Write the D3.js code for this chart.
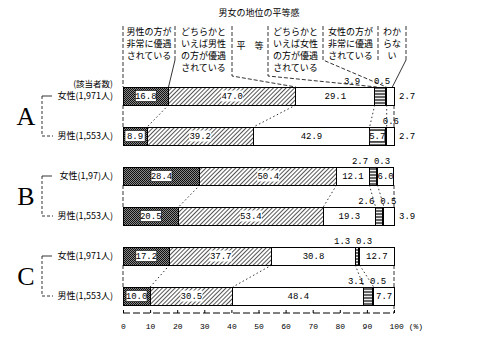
<!DOCTYPE html>
<html>
<head>
<meta charset="utf-8">
<script src="https://cdn.jsdelivr.net/npm/d3@7"></script>
<style>
  body { margin: 0; background: #fff; }
  svg { display: block; }
  .jp { font-family: "Noto Sans CJK JP", sans-serif; }
  .num { font-family: "Liberation Mono", "DejaVu Sans Mono", monospace; }
</style>
</head>
<body>
<div id="chart"></div>
<script>
// datos
const title = "男女の地位の平等感";
const categories = [
  ["男性の方が", "非常に優遇", "されている"],
  ["どちらかと", "いえば男性", "の方が優遇", "されている"],
  ["平　等"],
  ["どちらかと", "いえば女性", "の方が優遇", "されている"],
  ["女性の方が", "非常に優遇", "されている"],
  ["わか", "らな", "い"]
];
const groupNames = ["A", "B", "C"];
const rowGroup = ["A", "A", "B", "B", "C", "C"];
const rowLabels = ["女性(1,971人)", "男性(1,553人)", "女性(1,97)人)", "男性(1,553人)", "女性(1,971人)", "男性(1,553人)"];
const maleStrong = [16.8, 8.9, 28.4, 20.5, 17.2, 10.0];
const maleSome = [47.0, 39.2, 50.4, 53.4, 37.7, 30.5];
const equal = [29.1, 42.9, 12.1, 19.3, 30.8, 48.4];
const femaleSome = [3.9, 5.7, 2.7, 2.6, 1.3, 3.1];
const femaleStrong = [0.5, 0.6, 0.3, 0.5, 0.3, 0.5];
const unknown = [2.7, 2.7, 6.0, 3.9, 12.7, 7.7];
const xTicks = [0, 10, 20, 30, 40, 50, 60, 70, 80, 90, 100];

const keys = ["maleStrong", "maleSome", "equal", "femaleSome", "femaleStrong", "unknown"];
const series = [maleStrong, maleSome, equal, femaleSome, femaleStrong, unknown];
const rows = rowLabels.map((label, i) => {
  const r = { id: i, group: rowGroup[i], label };
  keys.forEach((k, j) => r[k] = series[j][i]);
  return r;
});

const width = 480, height = 340;
const barH = 18;

const svg = d3.select("#chart").append("svg")
  .attr("width", width)
  .attr("height", height);

const x = d3.scaleLinear([0, 100], [123, 394]);
const y = d3.scalePoint(rows.map(d => d.id), [96, 296]);

const stack = d3.stack().keys(keys)(rows);

// patrones
const defs = svg.append("defs");
const p1 = defs.append("pattern").attr("id", "p1").attr("patternUnits", "userSpaceOnUse")
  .attr("width", 2).attr("height", 2);
p1.append("rect").attr("width", 2).attr("height", 2).attr("fill", "#888");
p1.append("rect").attr("width", 1).attr("height", 1).attr("fill", "#111");
p1.append("rect").attr("x", 1).attr("y", 1).attr("width", 1).attr("height", 1).attr("fill", "#111");

const p2 = defs.append("pattern").attr("id", "p2").attr("patternUnits", "userSpaceOnUse")
  .attr("width", 3).attr("height", 3).attr("patternTransform", "rotate(45)");
p2.append("rect").attr("width", 3).attr("height", 3).attr("fill", "#fff");
p2.append("line").attr("x1", 0.5).attr("x2", 0.5).attr("y1", 0).attr("y2", 3)
  .attr("stroke", "#555").attr("stroke-width", 1);

const p4 = defs.append("pattern").attr("id", "p4").attr("patternUnits", "userSpaceOnUse")
  .attr("width", 3).attr("height", 3);
p4.append("rect").attr("width", 3).attr("height", 3).attr("fill", "#666");
p4.append("rect").attr("y", 2).attr("width", 3).attr("height", 1).attr("fill", "#eee");

const fills = ["url(#p1)", "url(#p2)", "#fff", "url(#p4)", "#000", "#fff"];

// título
svg.append("text").attr("class", "jp")
  .attr("x", 259).attr("y", 13).attr("dy", "0.35em")
  .attr("text-anchor", "middle").attr("font-size", 9)
  .text(title);

// cabecera con las categorías
const colX = [123, 175, 232, 268, 323, 378, 406];
const lineY = [32, 44, 56, 68];
const head = svg.append("g").attr("class", "jp").attr("font-size", 9).attr("text-anchor", "middle");
categories.forEach((lines, i) => {
  const cx = (colX[i] + colX[i + 1]) / 2;
  lines.forEach((t, j) => {
    head.append("text")
      .attr("x", cx)
      .attr("y", lines.length === 1 ? 46 : lineY[j])
      .attr("dy", "0.35em")
      .text(t);
  });
});

const lead = svg.append("g").attr("fill", "none").attr("stroke", "#000").attr("stroke-width", 0.8);
const topA = y(0) - barH / 2;
const cumA = d3.cumsum(keys.map(k => rows[0][k]));
// separadores verticales y líneas guía hacia la barra A 女性
lead.append("path").attr("stroke-dasharray", "4,2").attr("d", `M${colX[0]},26V${topA}`);
lead.append("path").attr("stroke-dasharray", "4,2").attr("d", `M${colX[1]},26V60`);
lead.append("path").attr("d", `M${colX[1]},60L${x(cumA[0])},${topA}`);
lead.append("path").attr("stroke-dasharray", "4,2").attr("d", `M${colX[2]},26V76L${x(cumA[1])},${topA}`);
lead.append("path").attr("stroke-dasharray", "4,2").attr("d", `M${colX[3]},26V76L${x(cumA[2]) + 2},${topA}`);
lead.append("path").attr("stroke-dasharray", "4,2").attr("d", `M${colX[4]},26V60L${x(cumA[3]) + 1},${topA}`);
lead.append("path").attr("stroke-dasharray", "4,2").attr("d", `M${colX[5]},26V60`);
lead.append("path").attr("stroke-dasharray", "4,2").attr("d", `M${colX[6]},26V60`);
lead.append("path").attr("d", `M${colX[6]},60L${x(cumA[4] + unknown[0] / 2) + 2},${topA}`);

// barras
const bars = svg.append("g").attr("stroke", "#000").attr("stroke-width", 1).attr("shape-rendering", "crispEdges");
stack.forEach((s, j) => {
  bars.append("g").attr("fill", fills[j])
    .selectAll("rect")
    .data(s)
    .join("rect")
    .attr("x", d => x(d[0]))
    .attr("y", (d, i) => y(i) - barH / 2)
    .attr("width", d => x(d[1]) - x(d[0]))
    .attr("height", barH);
});

// conectores entre 女性 y 男性 de cada grupo
const conn = svg.append("g").attr("fill", "none").attr("stroke", "#000").attr("stroke-width", 0.8);
groupNames.forEach((g, gi) => {
  const f = gi * 2, m = gi * 2 + 1;
  const cf = d3.cumsum(keys.map(k => rows[f][k]));
  const cm = d3.cumsum(keys.map(k => rows[m][k]));
  const y1 = y(f) + barH / 2, y2 = y(m) - barH / 2;
  [0, 1, 2, 4].forEach(b => {
    conn.append("line").attr("stroke-dasharray", "1.5,2.5")
      .attr("x1", x(cf[b])).attr("y1", y1).attr("x2", x(cm[b])).attr("y2", y2);
  });
  conn.append("line").attr("stroke-dasharray", "4,2")
    .attr("x1", x(0)).attr("x2", x(0)).attr("y1", y1).attr("y2", y2);
  conn.append("line").attr("stroke-dasharray", "4,2")
    .attr("x1", x(100)).attr("x2", x(100)).attr("y1", y1).attr("y2", y2);
});
conn.append("line").attr("stroke-dasharray", "4,2")
  .attr("x1", x(100)).attr("x2", x(100)).attr("y1", y(5) + barH / 2).attr("y2", 313);

// etiquetas de valores
const labels = svg.append("g").attr("class", "num").attr("font-size", 9).attr("text-anchor", "middle");
function boxLabel(cx, cy, txt, w) {
  labels.append("rect").attr("x", cx - w / 2).attr("y", cy - 5.5).attr("width", w).attr("height", 11)
    .attr("fill", "#fff").attr("stroke", "#000").attr("stroke-width", 0.6);
  labels.append("text").attr("x", cx).attr("y", cy).attr("dy", "0.35em").text(txt);
}
function plainLabel(cx, cy, txt, anchor = "middle", bg = false) {
  if (bg) labels.append("rect").attr("x", cx - 11).attr("y", cy - 5.5).attr("width", 22).attr("height", 11).attr("fill", "#fff");
  labels.append("text").attr("x", cx).attr("y", cy).attr("dy", "0.35em")
    .attr("text-anchor", anchor).text(txt);
}
const fmt = d3.format(".1f");
rows.forEach((r, i) => {
  const cy = y(i);
  const s = keys.map((k, j) => stack[j][i]);
  const mid = j => (x(s[j][0]) + x(s[j][1])) / 2;
  const top = cy - barH / 2;
  const w0 = x(s[0][1]) - x(s[0][0]);
  boxLabel(mid(0), cy, fmt(r.maleStrong), Math.min(21, w0 - 4));
  plainLabel(mid(1), cy, fmt(r.maleSome), "middle", true);
  plainLabel(mid(2), cy, fmt(r.equal));
  if (r.femaleSome >= 5) boxLabel(mid(3), cy, fmt(r.femaleSome), 15);
  else plainLabel(mid(4) - (i === 0 ? 34 : 17), top - 6, fmt(r.femaleSome));
  plainLabel(mid(4) + (i === 0 ? -4 : 5), top - 6, fmt(r.femaleStrong));
  if (r.unknown >= 5) plainLabel(mid(5), cy, fmt(r.unknown));
  else plainLabel(x(100) + 5, cy, fmt(r.unknown), "start");
});

// lado izquierdo: letras, llaves y etiquetas de filas
const left = svg.append("g");
left.append("text").attr("class", "jp")
  .attr("x", 113).attr("y", y(0) - 12).attr("dy", "0.35em")
  .attr("text-anchor", "end").attr("font-size", 8.5)
  .text("(該当者数)");
groupNames.forEach((g, gi) => {
  const f = gi * 2, m = gi * 2 + 1;
  left.append("text")
    .attr("x", 26).attr("y", (y(f) + y(m)) / 2).attr("dy", "0.35em")
    .attr("text-anchor", "middle")
    .attr("font-family", "Liberation Serif, serif")
    .attr("font-size", 26)
    .text(g);
  left.append("path").attr("fill", "none").attr("stroke", "#000").attr("stroke-width", 0.8)
    .attr("stroke-dasharray", "3,2")
    .attr("d", `M42,${y(f)}V${y(m)}`);
  left.append("path").attr("fill", "none").attr("stroke", "#000").attr("stroke-width", 0.8)
    .attr("d", `M42,${y(f)}H52`);
  left.append("path").attr("fill", "none").attr("stroke", "#000").attr("stroke-width", 0.8)
    .attr("stroke-dasharray", "3,2")
    .attr("d", `M42,${y(m)}H53`);
});
left.selectAll("text.row")
  .data(rows)
  .join("text")
  .attr("class", "row jp")
  .attr("x", 113).attr("y", (d, i) => y(i)).attr("dy", "0.35em")
  .attr("text-anchor", "end").attr("font-size", 9)
  .text(d => d.label);

// eje x
const axis = svg.append("g")
  .attr("transform", "translate(0,313)")
  .call(d3.axisBottom(x).tickValues(xTicks).tickSize(-3).tickPadding(10)
    .tickFormat(d => d === 100 ? "100 (%)" : d));
axis.select(".domain").attr("stroke-dasharray", "7,3").attr("d", `M${x(0)},0H${x(100)}`);
axis.selectAll("text").attr("class", "num").attr("font-size", 8).attr("fill", "#000");
axis.selectAll(".tick").filter(d => d === 100).select("text").attr("text-anchor", "start").attr("x", -5);
</script>
</body>
</html>
